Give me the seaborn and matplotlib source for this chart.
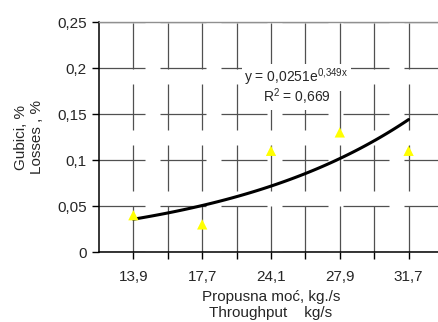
import numpy as np
import pandas as pd
import matplotlib
matplotlib.use("Agg")
import matplotlib.pyplot as plt
import seaborn as sns

categories = ["13,9", "17,7", "24,1", "27,9", "31,7"]
losses = [0.04, 0.03, 0.11, 0.13, 0.11]
yticks = [0, 0.05, 0.1, 0.15, 0.2, 0.25]
ytick_labels = ["0", "0,05", "0,1", "0,15", "0,2", "0,25"]

sns.set_theme(style="white")
plt.rcParams['font.family'] = ['Liberation Sans', 'DejaVu Sans']
plt.rcParams['mathtext.fontset'] = 'custom'
plt.rcParams['mathtext.rm'] = 'Liberation Sans'

pos = np.arange(1, len(categories) + 1)
df = pd.DataFrame({"pos": pos, "loss": losses})

# exponential trendline fitted to the data (Excel style)
b, lna = np.polyfit(pos, np.log(losses), 1)
a = np.exp(lna)
ly = np.log(losses)
r2 = 1 - np.sum((ly - (lna + b * pos)) ** 2) / np.sum((ly - ly.mean()) ** 2)
xs = np.linspace(pos[0], pos[-1], 100)
trend = pd.DataFrame({"pos": xs, "fit": a * np.exp(b * xs)})

fig = plt.figure(figsize=(4.38, 3.22), dpi=100)
ax = fig.add_axes([99 / 438, 70 / 322, 344 / 438, 230 / 322])

lw = 0.9
dash = (0, (46 * 0.72 / lw, 15 * 0.72 / lw))
ax.set_xlim(0.5, 5.5)
ax.set_ylim(0, 0.25)
ax.set_xticks(pos)
ax.set_xticks(pos[:-1] + 0.5, minor=True)
ax.set_xticklabels(categories)
ax.set_yticks(yticks)
ax.set_yticklabels(ytick_labels)
ax.grid(True, which='both', axis='x', color='#505050', lw=lw, linestyle=dash)
ax.grid(True, which='major', axis='y', color='#505050', lw=lw, linestyle=dash)
ax.set_axisbelow(True)

sns.lineplot(data=trend, x="pos", y="fit", color='black', lw=2.2, ax=ax, zorder=3)
sns.scatterplot(data=df, x="pos", y="loss", marker='^', color='#FFFF00', s=55,
                edgecolor='none', ax=ax, zorder=4)

a_txt = ("%.4f" % a).replace(".", ",")
b_txt = ("%.3f" % b).replace(".", "{,}")
ax.text(3.37, 0.19, "y = " + a_txt + "e$^{\\mathregular{" + b_txt + "x}}$",
        ha='center', va='center', fontsize=10, zorder=5,
        bbox=dict(facecolor='white', edgecolor='none', pad=2))
ax.text(3.37, 0.1685, "R$^{\\mathregular{2}}$ = " + ("%.3f" % r2).replace(".", ","),
        ha='center', va='center', fontsize=10, zorder=5,
        bbox=dict(facecolor='white', edgecolor='none', pad=2))

ax.set_xlabel("Propusna moć, kg./s\nThroughput    kg/s", fontsize=11, labelpad=4,
              linespacing=1.25)
ax.set_ylabel("Gubici, %\nLosses , %", fontsize=11, labelpad=9, linespacing=1.2)

for s in ['left', 'bottom']:
    ax.spines[s].set_color('black')
    ax.spines[s].set_linewidth(1.1)
ax.spines['top'].set_color('#909090')
ax.spines['top'].set_linewidth(1.0)
ax.spines['right'].set_visible(False)
ax.tick_params(axis='both', which='both', direction='out', length=5, width=1,
               color='black', labelsize=11, pad=4,
               bottom=True, left=True)
ax.tick_params(axis='x', which='major', pad=8)

fig.savefig("out.png", dpi=100)
